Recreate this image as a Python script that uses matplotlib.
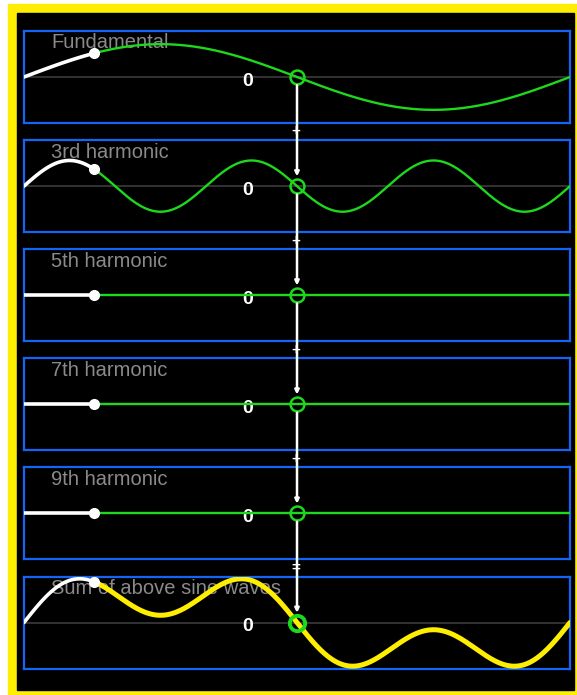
import numpy as np
import matplotlib.pyplot as plt
from matplotlib.patches import Rectangle

# Panel titles and the amplitude of each odd harmonic (fundamental = 1).
panel_titles = ['Fundamental', '3rd harmonic', '5th harmonic', '7th harmonic', '9th harmonic']
harmonic_orders = [1, 3, 5, 7, 9]
harmonic_amplitudes = [1.0, 0.78, 0.0, 0.0, 0.0]
sum_title = 'Sum of above sine waves'
operators = ['+', '+', '+', '+', '=']
# Phase already traced (drawn in white).
phase_now = -2.325

W, H = 577, 695
GREEN = '#1ed81e'
BLUE = '#1464f5'
YELLOW = '#ffee00'


def px_rect(x0, y0, x1, y1):
    # pixel box (top-left origin) -> figure fraction [left, bottom, width, height]
    return [x0 / W, 1 - y1 / H, (x1 - x0) / W, (y1 - y0) / H]


def wave(theta, order, amp):
    return -amp * np.sin(order * theta)


def main():
    fig = plt.figure(figsize=(W / 100, H / 100), dpi=100, facecolor='white')
    plt.rcParams['font.family'] = ['Liberation Sans', 'DejaVu Sans']

    # Yellow frame and black background.
    l, b, w, h = px_rect(8, 4, 577, 695)
    fig.add_artist(Rectangle((l, b), w, h, transform=fig.transFigure, color=YELLOW, zorder=0))
    l, b, w, h = px_rect(17, 13, 574, 690)
    fig.add_artist(Rectangle((l, b), w, h, transform=fig.transFigure, color='black', zorder=0))

    theta = np.linspace(-np.pi, np.pi, 800)
    past = theta <= phase_now
    future = theta >= phase_now

    axes = []
    n_panels = len(panel_titles) + 1
    for i in range(n_panels):
        top = 31 + 109.1 * i
        ax = fig.add_axes(px_rect(24, top, 570, top + 92))
        ax.set_facecolor('none')
        ax.set_xlim(-np.pi, np.pi)
        ax.set_ylim(-1.4, 1.4)
        ax.set_xticks([]); ax.set_yticks([])
        for sp in ax.spines.values():
            sp.set_color(BLUE)
            sp.set_linewidth(1.6)
        ax.axhline(0, color='#3c3c3c', lw=1.2, zorder=1)

        if i < len(panel_titles):
            y = wave(theta, harmonic_orders[i], harmonic_amplitudes[i])
            title = panel_titles[i]
            col, lw_now, lw_past = GREEN, 1.7, 2.6
            mk, mew = 10, 1.8
        else:
            y = sum(wave(theta, n, a) for n, a in zip(harmonic_orders, harmonic_amplitudes))
            title = sum_title
            col, lw_now, lw_past = YELLOW, 3.6, 2.6
            mk, mew = 11, 2.8

        ax.text(0.05, 1 - 2.5 / 92, title, transform=ax.transAxes, ha='left', va='top',
                color='#8a8a8a', fontsize=14.5, zorder=2)
        ax.text(0.41, 0.455, '0', transform=ax.transAxes, ha='center', va='center',
                color='white', fontsize=14, fontweight='bold', zorder=2)

        ax.plot(theta[future], y[future], color=col, lw=lw_now, zorder=3, solid_capstyle='round')
        ax.plot(theta[past], y[past], color='white', lw=lw_past, zorder=4, solid_capstyle='round')
        ax.plot(theta[past][-1], y[past][-1], 'o', color='white', ms=7, zorder=5)
        ax.plot(0, 0, 'o', mfc='none', mec=GREEN, ms=mk, mew=mew, zorder=6)
        axes.append(ax)

    # Vertical white line linking the current value of each panel, with + / = signs.
    for i in range(n_panels - 1):
        a0, a1 = axes[i], axes[i + 1]
        a1.annotate('', xy=(0, 0), xycoords=a1.transData, xytext=(0, 0), textcoords=a0.transData,
                    arrowprops=dict(arrowstyle='-|>', color='white', lw=1.8, mutation_scale=6,
                                    shrinkA=6, shrinkB=7), zorder=7, annotation_clip=False)
        gap_y = 123 + 109.1 * i + 8.5
        fig.text(296 / W, 1 - gap_y / H, operators[i], ha='center', va='center',
                 color='white', fontsize=11, fontweight='bold', zorder=8)

    fig.savefig('out.png', dpi=100, facecolor=fig.get_facecolor())


if __name__ == '__main__':
    main()
